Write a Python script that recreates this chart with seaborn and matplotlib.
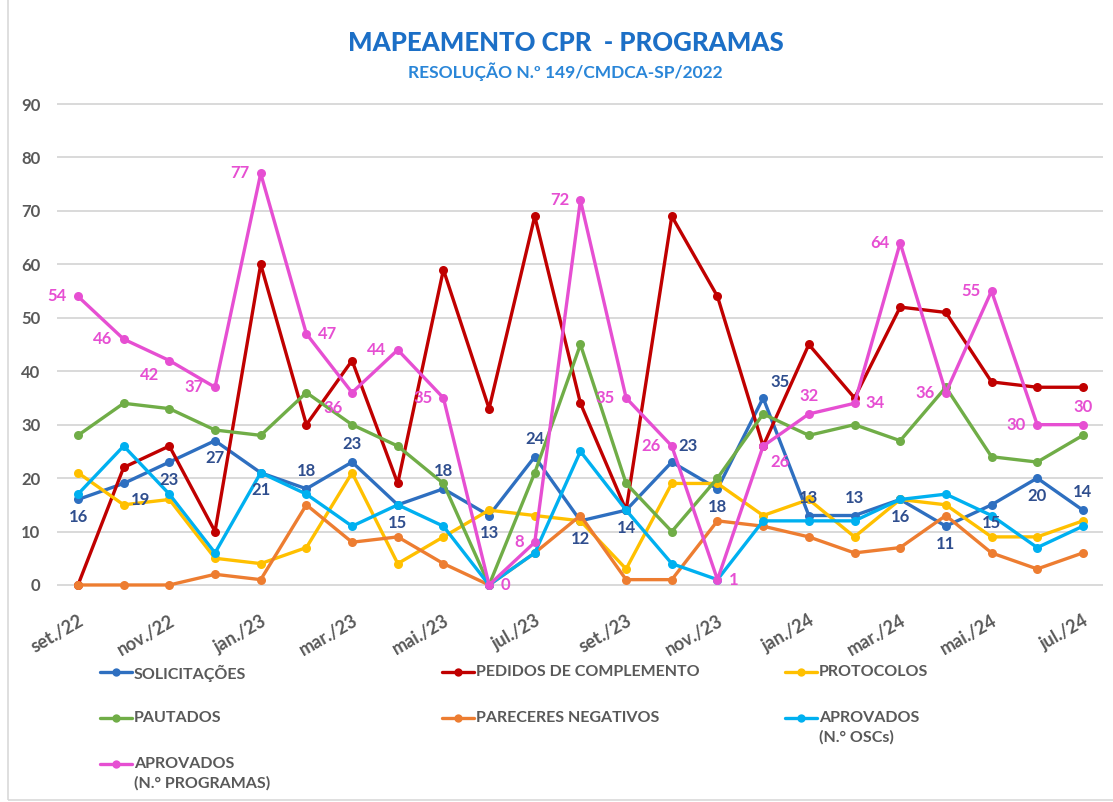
import pandas as pd
import numpy as np
import matplotlib
matplotlib.use("Agg")
import matplotlib.pyplot as plt
from matplotlib.lines import Line2D
from matplotlib.patches import Rectangle
import seaborn as sns

# -------------------------------
# Data
# -------------------------------
months = ["set./22", "out./22", "nov./22", "dez./22", "jan./23", "fev./23", "mar./23",
          "abr./23", "mai./23", "jun./23", "jul./23", "ago./23", "set./23", "out./23",
          "nov./23", "dez./23", "jan./24", "fev./24", "mar./24", "abr./24", "mai./24",
          "jun./24", "jul./24"]

solicitacoes = [16, 19, 23, 27, 21, 18, 23, 15, 18, 13, 24, 12, 14, 23, 18, 35, 13, 13, 16, 11, 15, 20, 14]
pedidos = [0, 22, 26, 10, 60, 30, 42, 19, 59, 33, 69, 34, 14, 69, 54, 26, 45, 35, 52, 51, 38, 37, 37]
protocolos = [21, 15, 16, 5, 4, 7, 21, 4, 9, 14, 13, 12, 3, 19, 19, 13, 16, 9, 16, 15, 9, 9, 12]
pautados = [28, 34, 33, 29, 28, 36, 30, 26, 19, 0, 21, 45, 19, 10, 20, 32, 28, 30, 27, 37, 24, 23, 28]
pareceres = [0, 0, 0, 2, 1, 15, 8, 9, 4, 0, 6, 13, 1, 1, 12, 11, 9, 6, 7, 13, 6, 3, 6]
aprov_oscs = [17, 26, 17, 6, 21, 17, 11, 15, 11, 0, 6, 25, 14, 4, 1, 12, 12, 12, 16, 17, 13, 7, 11]
aprov_prog = [54, 46, 42, 37, 77, 47, 36, 44, 35, 0, 8, 72, 35, 26, 1, 26, 32, 34, 64, 36, 55, 30, 30]

series_names = ["SOLICITAÇÕES", "PEDIDOS DE COMPLEMENTO", "PROTOCOLOS", "PAUTADOS",
                "PARECERES NEGATIVOS", "APROVADOS\n(N.° OSCs)", "APROVADOS\n(N.° PROGRAMAS)"]
series_vals = [solicitacoes, pedidos, protocolos, pautados, pareceres, aprov_oscs, aprov_prog]
colors = ["#2E6FC0", "#C00000", "#FFC000", "#70AD47", "#ED7D31", "#00B0F0", "#E64FD2"]

# label placement per point (L/R/A/B and combos)
prog_pos = ["L", "L", "BL", "L", "L", "R", "BL", "L", "L", "R", "L", "L", "L", "L",
            "R", "BR", "A", "R", "L", "L", "L", "L", "A"]
solic_pos = ["B", "BR", "B", "B", "B", "A", "A", "B", "A", "B", "A", "B", "B", "AR",
             "B", "AR", "A", "A", "B", "B", "B", "B", "A"]

rows = []
for name, vals in zip(series_names, series_vals):
    for i, v in enumerate(vals):
        rows.append({"idx": i, "valor": v, "serie": name})
df = pd.DataFrame(rows)

sns.set_theme(style="white")
plt.rcParams["font.family"] = ["Lato", "DejaVu Sans"]

fig = plt.figure(figsize=(11.13, 8.02), dpi=100)
ax = fig.add_axes([0.0512, 0.2506, 0.9398, 0.6397])

sns.lineplot(data=df, x="idx", y="valor", hue="serie", hue_order=series_names,
             palette=dict(zip(series_names, colors)), marker="o", markersize=6.5,
             markeredgewidth=0, linewidth=2.4, sort=False, legend=False, ax=ax)

ax.set_xlim(-0.46, 22.44)
ax.set_ylim(-3, 93)
ax.set_yticks(range(0, 91, 10))
ax.set_xticks(range(0, len(months), 2))
ax.set_xticklabels(months[::2], rotation=30, ha="right", rotation_mode="anchor")
ax.tick_params(axis="y", length=0, labelcolor="#595959", labelsize=12, pad=12)
ax.tick_params(axis="x", length=0, labelcolor="#595959", labelsize=13, pad=8)
for t in ax.get_xticklabels() + ax.get_yticklabels():
    t.set_fontweight("bold")
ax.set_xlabel("")
ax.set_ylabel("")
ax.grid(axis="y", color="#d9d9d9", linewidth=1.4)
ax.grid(axis="x", visible=False)
ax.set_axisbelow(True)
for s in ax.spines.values():
    s.set_visible(False)

# data labels
offs = {"L": (-8, 0, "right", "center"), "R": (8, 0, "left", "center"),
        "A": (0, 7, "center", "bottom"), "B": (0, -7, "center", "top"),
        "BL": (-7, -5, "right", "top"), "BR": (5, -6, "left", "top"),
        "AR": (5, 6, "left", "bottom"), "AL": (-5, 6, "right", "bottom")}

def add_labels(vals, pos, color):
    for i, (v, p) in enumerate(zip(vals, pos)):
        dx, dy, ha, va = offs[p]
        ax.annotate(str(v), (i, v), xytext=(dx, dy), textcoords="offset points",
                    ha=ha, va=va, color=color, fontsize=12, fontweight="bold")

add_labels(aprov_prog, prog_pos, "#E64FD2")
add_labels(solicitacoes, solic_pos, "#2F4E8E")

# titles
fig.text(0.508, 0.947, "MAPEAMENTO CPR  - PROGRAMAS", ha="center", va="center",
         fontsize=18.5, fontweight="black", color="#1C6FC6")
fig.text(0.508, 0.910, "RESOLUÇÃO N.º 149/CMDCA-SP/2022", ha="center", va="center",
         fontsize=12.5, fontweight="bold", color="#2A86D8")

# legend drawn by hand, 3 columns
leg_x = [100, 442, 785]
leg_y = [672, 718, 764]
W, H = 1113, 802
for k, (name, col) in enumerate(zip(series_names, colors)):
    r, c = divmod(k, 3)
    x0 = leg_x[c]
    y0 = leg_y[r]
    fig.add_artist(Line2D([x0 / W, (x0 + 32) / W], [1 - y0 / H, 1 - y0 / H],
                          color=col, linewidth=2.4, transform=fig.transFigure))
    fig.add_artist(Line2D([(x0 + 16) / W], [1 - y0 / H], color=col, marker="o",
                          markersize=6, markeredgewidth=0, transform=fig.transFigure))
    fig.text((x0 + 34) / W, 1 - (y0 - 7) / H, name, ha="left", va="top",
             fontsize=11.5, fontweight="bold", color="#595959", linespacing=1.45)

# light frame
fig.add_artist(Rectangle((0.007, 0.002), 1.0, 1.5, transform=fig.transFigure,
                         fill=False, edgecolor="#d9d9d9", linewidth=1.2))

fig.savefig("out.png", dpi=100)
plt.close(fig)
